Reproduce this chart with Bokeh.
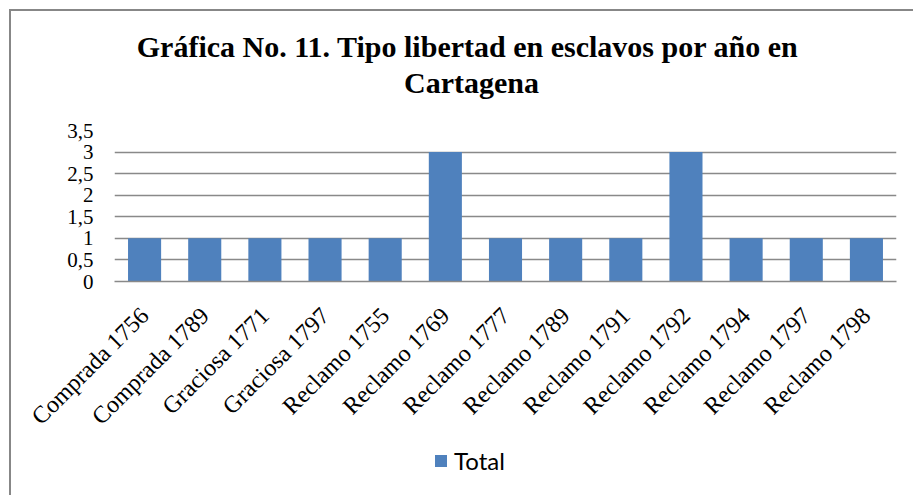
from bokeh.plotting import figure
from bokeh.layouts import column
from bokeh.models import Range1d, FixedTicker, Label, Legend, LegendItem, ColumnDataSource
from bokeh.embed import file_html
from bokeh.resources import INLINE
import math

# ---- data ----
categories = ["Comprada 1756", "Comprada 1789", "Graciosa 1771", "Graciosa 1797",
              "Reclamo 1755", "Reclamo 1769", "Reclamo 1777", "Reclamo 1789",
              "Reclamo 1791", "Reclamo 1792", "Reclamo 1794", "Reclamo 1797",
              "Reclamo 1798"]
totals = [1, 1, 1, 1, 1, 3, 1, 1, 1, 3, 1, 1, 1]
y_ticks = [0, 0.5, 1, 1.5, 2, 2.5, 3, 3.5]
y_tick_labels = ["0", "0,5", "1", "1,5", "2", "2,5", "3", "3,5"]
series_name = "Total"
title_lines = ["Gráfica No.  11. Tipo libertad en esclavos por año en", "Cartagena"]

SERIF = "Liberation Serif"
GRID = "#898989"
BAR = "#4f81bd"
W = 902

src = ColumnDataSource(dict(cat=categories, total=totals))

# ---- main chart ----
p = figure(x_range=categories, y_range=Range1d(0, 3.5), width=W, height=340,
           output_backend="svg", toolbar_location=None,
           min_border_left=103, min_border_right=17,
           min_border_top=19, min_border_bottom=170)
p.outline_line_color = None
p.background_fill_color = "white"
p.border_fill_color = "white"

r = p.vbar(x="cat", top="total", source=src, width=0.55, fill_color=BAR, line_color=None)

p.yaxis.ticker = FixedTicker(ticks=y_ticks)
p.yaxis.major_label_overrides = dict(zip(y_ticks, y_tick_labels))
p.yaxis.axis_line_color = None
p.yaxis.major_tick_line_color = None
p.yaxis.minor_tick_line_color = None
p.yaxis.major_tick_out = 0
p.yaxis.major_label_standoff = 21
p.yaxis.major_label_text_font = SERIF
p.yaxis.major_label_text_font_size = "21px"
p.yaxis.major_label_text_color = "black"

p.ygrid.grid_line_color = GRID
p.ygrid.grid_line_width = 1.3
p.xgrid.grid_line_color = None

p.xaxis.axis_line_color = GRID
p.xaxis.axis_line_width = 1.3
p.xaxis.major_tick_line_color = None
p.xaxis.major_tick_out = 0
p.xaxis.major_label_orientation = math.pi / 4
p.xaxis.major_label_standoff = 30
p.xaxis.major_label_text_font = SERIF
p.xaxis.major_label_text_font_size = "24px"
p.xaxis.major_label_text_color = "black"

def strip(h, x_range):
    f = figure(width=W, height=h, output_backend="svg", toolbar_location=None,
               x_range=x_range, y_range=Range1d(-20, -10),
               x_axis_location=None, y_axis_location=None, min_border=0)
    f.grid.visible = False
    f.outline_line_color = None
    f.background_fill_color = "white"
    f.border_fill_color = "white"
    return f

# ---- title strip (frame is aligned with the chart's frame) ----
pt = strip(100, Range1d(0, 1))
for txt, yb in zip(title_lines, [65, 29]):
    pt.add_layout(Label(x=357, y=yb, x_units="screen", y_units="screen", text=txt,
                        text_font=SERIF, text_font_style="bold", text_font_size="30px",
                        text_align="center", text_baseline="alphabetic",
                        text_color="black"))

# ---- legend strip: same series (zero-width, out of view) gives the swatch ----
pl = strip(44, p.x_range)
swatch = pl.vbar(x="cat", top="total", source=src, width=0, fill_color=BAR,
                 line_color=None)
legend = Legend(items=[LegendItem(label=series_name, renderers=[swatch])],
                location=(319, 20), orientation="horizontal",
                border_line_color=None, background_fill_alpha=0,
                padding=0, margin=0, spacing=0,
                glyph_width=15, glyph_height=15, label_height=15,
                label_standoff=6,
                label_text_font="Lato", label_text_font_size="24px",
                label_text_color="black", label_text_baseline="middle")
pl.add_layout(legend, "center")

page = column(pt, p, pl, spacing=0,
              styles={"margin-left": "9px", "margin-top": "9px",
                      "border-left": "2px solid #878787",
                      "border-top": "2px solid #878787"})

open("out.html", "w").write(file_html(page, INLINE))
